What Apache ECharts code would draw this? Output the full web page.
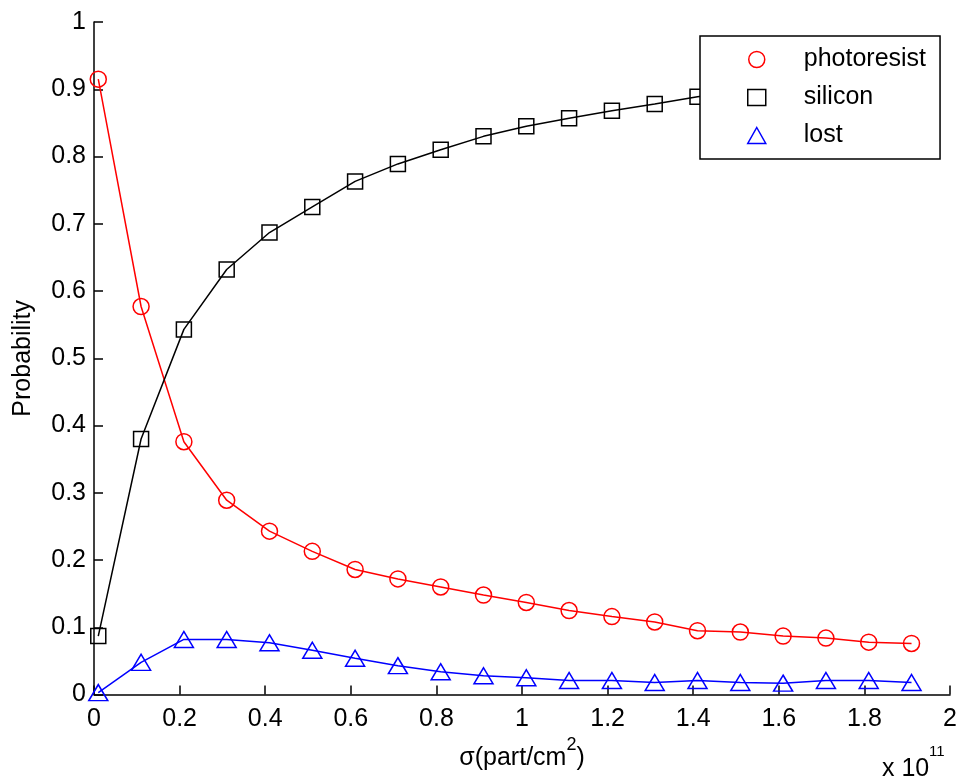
<!DOCTYPE html>
<html>
<head>
<meta charset="utf-8">
<script src="https://cdn.jsdelivr.net/npm/echarts@6/dist/echarts.min.js"></script>
<style>
  html, body { margin: 0; padding: 0; background: #fff; }
  #chart { width: 960px; height: 776px; }
</style>
</head>
<body>
<div id="chart"></div>
<script>
// x positions (units of 1e11 part/cm^2)
const xValues = [0.01, 0.11, 0.21, 0.31, 0.41, 0.51, 0.61, 0.71, 0.81, 0.91,
                 1.01, 1.11, 1.21, 1.31, 1.41, 1.51, 1.61, 1.71, 1.81, 1.91];
const photoresist = [0.915, 0.577, 0.376, 0.289, 0.243, 0.213, 0.186, 0.172, 0.160, 0.148,
                     0.137, 0.125, 0.116, 0.108, 0.095, 0.093, 0.087, 0.084, 0.078, 0.076];
const silicon = [0.087, 0.380, 0.543, 0.632, 0.687, 0.725, 0.763, 0.789, 0.810, 0.830,
                 0.845, 0.857, 0.868, 0.878, 0.889, 0.897, 0.904, 0.910, 0.915, 0.920];
const lost = [0.003, 0.048, 0.082, 0.082, 0.077, 0.066, 0.054, 0.043, 0.034, 0.028,
              0.025, 0.021, 0.021, 0.018, 0.021, 0.018, 0.017, 0.021, 0.021, 0.018];
const seriesNames = ['photoresist', 'silicon', 'lost'];
const xAxisName = 'σ(part/cm';
const xAxisSup = '2';
const yAxisName = 'Probability';
const exponentBase = 'x 10';
const exponentPow = '11';

const FONT = '"Liberation Sans", Arial, Helvetica, sans-serif';

function pairs(ys) { return xValues.map((x, i) => [x, ys[i]]); }

const chart = echarts.init(document.getElementById('chart'), null, { renderer: 'canvas' });

const colors = ['#ff0000', '#000000', '#0000ff'];
const symbols = ['circle', 'rect', 'triangle'];
const symbolSizes = [16, 15, [19, 16]];
const datasets = [photoresist, silicon, lost];

const option = {
  backgroundColor: '#ffffff',
  animation: false,
  textStyle: { fontFamily: FONT },
  grid: { left: 94, right: 9, top: 22, bottom: 80, containLabel: false },
  xAxis: {
    type: 'value',
    min: 0, max: 2, interval: 0.2,
    name: '{a|' + xAxisName + '}{s|' + xAxisSup + '}{a|)}',
    nameLocation: 'middle',
    nameGap: 32,
    nameTextStyle: {
      rich: {
        a: { fontSize: 25, fontFamily: FONT, color: '#000', lineHeight: 44 },
        s: { fontSize: 18, fontFamily: FONT, color: '#000', lineHeight: 18, verticalAlign: 'top' }
      }
    },
    axisLine: { show: true, onZero: false, lineStyle: { color: '#000', width: 1.5 } },
    axisTick: { show: true, inside: true, length: 9, lineStyle: { color: '#000', width: 1.5 } },
    axisLabel: {
      margin: 12, fontSize: 25, color: '#000', fontFamily: FONT,
      formatter: v => String(+v.toFixed(1))
    },
    splitLine: { show: false }
  },
  yAxis: {
    type: 'value',
    min: 0, max: 1, interval: 0.1,
    name: yAxisName,
    nameLocation: 'middle',
    nameGap: 58,
    nameTextStyle: { fontSize: 25, color: '#000', fontFamily: FONT },
    axisLine: { show: true, onZero: false, lineStyle: { color: '#000', width: 1.5 } },
    axisTick: { show: true, inside: true, length: 9, lineStyle: { color: '#000', width: 1.5 } },
    axisLabel: {
      margin: 8, fontSize: 25, color: '#000', fontFamily: FONT,
      formatter: v => String(+v.toFixed(1))
    },
    splitLine: { show: false }
  },
  legend: {
    orient: 'vertical',
    left: 700, top: 36,
    padding: [11, 14, 11, 47],
    itemWidth: 18, itemHeight: 16, itemGap: 13,
    backgroundColor: '#ffffff',
    borderColor: '#000', borderWidth: 1.5,
    textStyle: { fontSize: 25, color: '#000', fontFamily: FONT, lineHeight: 24, padding: [0, 0, 0, 33] },
    data: seriesNames.map((n, i) => ({
      name: n,
      icon: symbols[i],
      itemStyle: { color: 'rgba(0,0,0,0)', borderColor: colors[i], borderWidth: 1.5 }
    })),
    z: 10
  },
  series: seriesNames.map((n, i) => ({
    name: n,
    type: 'line',
    data: pairs(datasets[i]),
    symbol: symbols[i],
    symbolSize: symbolSizes[i],
    showAllSymbol: true,
    clip: false,
    lineStyle: { color: colors[i], width: 1.5 },
    itemStyle: { color: 'rgba(0,0,0,0)', borderColor: colors[i], borderWidth: 1.5 },
    emphasis: { disabled: true }
  })),
  graphic: [
    {
      type: 'text', left: 882, top: 757, z: 20,
      style: { text: exponentBase, fontSize: 25, fontFamily: FONT, fill: '#000' }
    },
    {
      type: 'text', left: 929, top: 744, z: 20,
      style: { text: exponentPow, fontSize: 15, fontFamily: FONT, fill: '#000' }
    }
  ]
};

chart.setOption(option);
</script>
</body>
</html>
